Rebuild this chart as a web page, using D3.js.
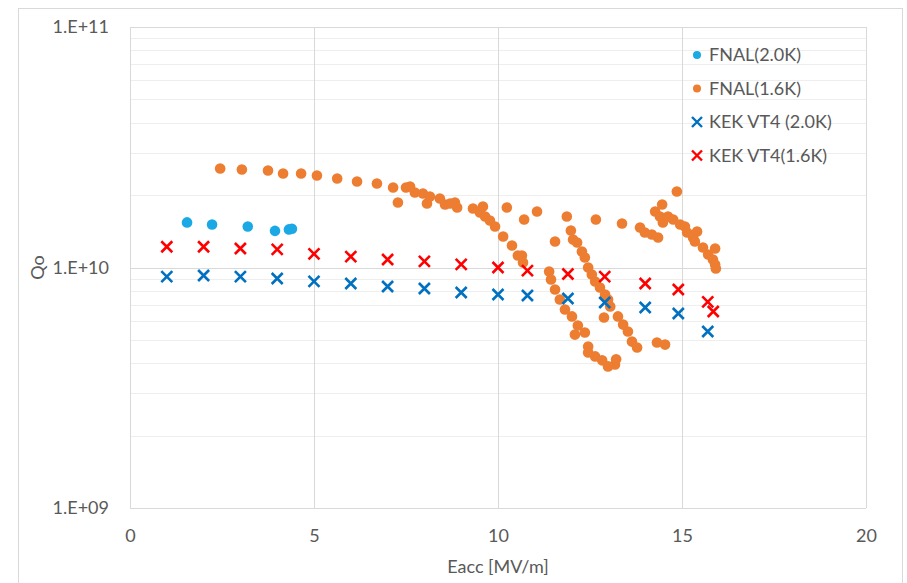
<!DOCTYPE html>
<html>
<head>
<meta charset="utf-8">
<script src="https://cdn.jsdelivr.net/npm/d3@7"></script>
<style>
  body { margin: 0; background: #fff; }
  text { font-family: Lato, "Noto Sans", sans-serif; fill: #595959; }
</style>
</head>
<body>
<script>
// series data, Q in units of 1e10
var fnal20 = [[1.55,1.54],[2.23,1.51],[3.2,1.48],[3.94,1.42],[4.32,1.44],[4.4,1.45]];

var fnal16 = [
  [2.45,2.58],[3.04,2.556],[3.75,2.531],[4.16,2.459],[4.65,2.459],[5.08,2.413],[5.63,2.345],
  [6.17,2.279],[6.71,2.235],[7.15,2.151],[7.28,1.864],[7.5,2.151],[7.61,2.172],[7.74,2.05],
  [7.96,2.031],[8.07,1.846],[8.15,1.973],[8.42,1.936],[8.56,1.828],[8.70,1.846],[8.83,1.864],
  [8.89,1.776],[9.32,1.759],[9.59,1.793],[9.51,1.693],[9.65,1.630],[9.78,1.568],[9.92,1.481],
  [10.14,1.346],[10.38,1.234],[10.54,1.122],[10.65,1.122],[10.68,1.049],[10.24,1.776],
  [10.71,1.583],[11.06,1.709],[11.55,1.283],[11.87,1.630],
  [12.66,1.583],[13.37,1.524],[13.86,1.467],[13.99,1.398],[14.18,1.371],[14.35,1.333],
  [14.27,1.709],[14.46,1.828],[14.40,1.630],[14.48,1.539],[14.62,1.630],[14.76,1.583],
  [14.95,1.509],[15.08,1.481],[15.14,1.398],[15.30,1.333],[15.41,1.411],[15.35,1.283],
  [15.57,1.211],[15.71,1.133],[15.90,1.200],[15.84,1.080],[15.90,1.029],[15.92,0.990],[14.86,2.070],
  [11.39,0.962],[11.44,0.891],[11.55,0.810],[11.68,0.736],[11.82,0.669],[12.01,0.626],
  [12.17,0.574],[12.36,0.537],[12.09,0.526],[12.45,0.469],[12.45,0.443],[12.64,0.427],
  [12.83,0.411],[12.99,0.388],[13.18,0.395],[13.21,0.415],
  [11.98,1.425],[12.04,1.307],[12.15,1.270],[12.28,1.166],[12.36,1.100],[12.45,1.0],
  [12.55,0.935],[12.64,0.875],[12.77,0.826],[12.91,0.772],[12.99,0.736],[13.05,0.688],
  [12.88,0.620],[13.26,0.626],[13.40,0.579],[13.53,0.542],[13.64,0.492],[13.78,0.465],
  [14.32,0.488],[14.54,0.478]
];

var kekE = [1,2,3,4,5,6,7,8,9,10,10.8,11.9,12.9,14,14.9,15.7,15.85];
var kek20 = [0.917,0.926,0.917,0.90,0.875,0.858,0.834,0.818,0.787,0.772,0.765,0.743,0.715,0.682,0.644,0.542];
var kek16 = [1.22,1.22,1.20,1.19,1.14,1.11,1.08,1.06,1.03,1.0,0.97,0.94,0.917,0.858,0.81,0.72,0.656];

var xTicks = [0,5,10,15,20];
var yTicks = [1e9,1e10,1e11];
var yLabels = ['1.E+09','1.E+10','1.E+11'];

var legendItems = [
  {name: 'FNAL(2.0K)', color: '#1BA9E6', shape: 'dot'},
  {name: 'FNAL(1.6K)', color: '#ED7D31', shape: 'dot'},
  {name: 'KEK VT4 (2.0K)', color: '#0070C0', shape: 'x'},
  {name: 'KEK VT4(1.6K)', color: '#FF0000', shape: 'x'}
];

var width = 907, height = 583;
var margin = {left: 130, right: 41, top: 27, bottom: 75};

var svg = d3.select('body').append('svg')
  .attr('width', width)
  .attr('height', height);

// chart border
svg.append('rect')
  .attr('x', 18.5).attr('y', 8.5)
  .attr('width', 884).attr('height', 590)
  .attr('fill', 'none').attr('stroke', '#d9d9d9');

var x = d3.scaleLinear().domain([0, 20]).range([margin.left, width - margin.right]);
var y = d3.scaleLog().domain([1e9, 1e11]).range([height - margin.bottom, margin.top]);

// minor gridlines
var minor = [];
[1e9, 1e10].forEach(function(d) {
  for (var k = 2; k <= 9; k++) minor.push(d * k);
});
svg.append('g').selectAll('line').data(minor).enter().append('line')
  .attr('x1', x(0)).attr('x2', x(20))
  .attr('y1', function(d) { return Math.round(y(d)) + 0.5; })
  .attr('y2', function(d) { return Math.round(y(d)) + 0.5; })
  .attr('stroke', '#eeeeee');

// major gridlines
svg.append('g').selectAll('line').data(yTicks).enter().append('line')
  .attr('x1', x(0)).attr('x2', x(20))
  .attr('y1', function(d) { return Math.round(y(d)) + 0.5; })
  .attr('y2', function(d) { return Math.round(y(d)) + 0.5; })
  .attr('stroke', '#d9d9d9');
svg.append('g').selectAll('line').data(xTicks).enter().append('line')
  .attr('x1', function(d) { return Math.round(x(d)) + 0.5; })
  .attr('x2', function(d) { return Math.round(x(d)) + 0.5; })
  .attr('y1', y(1e11)).attr('y2', y(1e9))
  .attr('stroke', '#d9d9d9');

// axes labels
var xAxis = d3.axisBottom(x).tickValues(xTicks).tickSize(0).tickPadding(21);
svg.append('g')
  .attr('transform', 'translate(0,' + y(1e9) + ')')
  .call(xAxis)
  .call(function(g) { g.select('.domain').remove(); })
  .selectAll('text').style('font-size', '18px').attr('fill', '#595959');

var yAxis = d3.axisLeft(y).tickValues(yTicks)
  .tickFormat(function(d, i) { return yLabels[i]; })
  .tickSize(0).tickPadding(21);
svg.append('g')
  .attr('transform', 'translate(' + x(0) + ',0)')
  .call(yAxis)
  .call(function(g) { g.select('.domain').remove(); })
  .selectAll('text').style('font-size', '18px').attr('fill', '#595959');

svg.append('text')
  .attr('x', (x(0) + x(20)) / 2).attr('y', 573)
  .attr('text-anchor', 'middle')
  .style('font-size', '18px')
  .text('Eacc [MV/m]');

svg.append('text')
  .attr('transform', 'translate(44,' + y(1e10) + ') rotate(-90)')
  .attr('text-anchor', 'middle')
  .style('font-size', '18px')
  .text('Qo');

// markers
function drawX(g, px, py, color) {
  var s = 5.5;
  g.append('path')
    .attr('d', 'M' + (px - s) + ',' + (py - s) + 'L' + (px + s) + ',' + (py + s) +
      'M' + (px - s) + ',' + (py + s) + 'L' + (px + s) + ',' + (py - s))
    .attr('stroke', color).attr('stroke-width', 2.6).attr('fill', 'none');
}

var plot = svg.append('g');

plot.selectAll('circle.f16').data(fnal16).enter().append('circle')
  .attr('cx', function(d) { return x(d[0]); })
  .attr('cy', function(d) { return y(d[1] * 1e10); })
  .attr('r', 5.3).attr('fill', legendItems[1].color);

plot.selectAll('circle.f20').data(fnal20).enter().append('circle')
  .attr('cx', function(d) { return x(d[0]); })
  .attr('cy', function(d) { return y(d[1] * 1e10); })
  .attr('r', 5.3).attr('fill', legendItems[0].color);

kek20.forEach(function(q, i) { drawX(plot, x(kekE[i]), y(q * 1e10), legendItems[2].color); });
kek16.forEach(function(q, i) { drawX(plot, x(kekE[i]), y(q * 1e10), legendItems[3].color); });

// legend
var legend = svg.append('g').attr('transform', 'translate(697,55)');
legendItems.forEach(function(d, i) {
  var ly = i * 33.5;
  if (d.shape === 'dot') {
    legend.append('circle').attr('cx', 0).attr('cy', ly).attr('r', 4).attr('fill', d.color);
  } else {
    var s = 5;
    legend.append('path')
      .attr('d', 'M' + (-s) + ',' + (ly - s) + 'L' + s + ',' + (ly + s) +
        'M' + (-s) + ',' + (ly + s) + 'L' + s + ',' + (ly - s))
      .attr('stroke', d.color).attr('stroke-width', 2.4);
  }
  legend.append('text')
    .attr('x', 12).attr('y', ly).attr('dy', '0.35em')
    .style('font-size', '18px')
    .text(d.name);
});
</script>
</body>
</html>
